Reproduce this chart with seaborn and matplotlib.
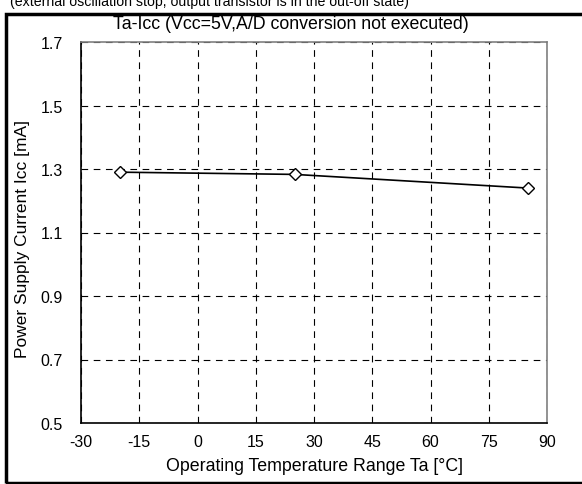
import matplotlib
matplotlib.use("Agg")
import matplotlib.pyplot as plt
import seaborn as sns
import pandas as pd
from matplotlib.patches import Rectangle

temps = [-20, 25, 85]
icc = [1.29, 1.283, 1.24]
xticks = [-30, -15, 0, 15, 30, 45, 60, 75, 90]
yticks = [0.5, 0.7, 0.9, 1.1, 1.3, 1.5, 1.7]

sns.set_theme(style="white")
plt.rcParams['font.family'] = ['Liberation Sans', 'DejaVu Sans']

df = pd.DataFrame({"Ta": temps, "Icc": icc})

W, H = 582, 485
fig = plt.figure(figsize=(W / 100, H / 100), dpi=100)
fig.patch.set_facecolor("white")
l, r, t, b = 81, 547, 43, 424
ax = fig.add_axes([l / W, 1 - b / H, (r - l) / W, (b - t) / H])

sns.lineplot(data=df, x="Ta", y="Icc", ax=ax, color="black", linewidth=1.2,
             marker="D", markersize=6, markerfacecolor="white",
             markeredgecolor="black", markeredgewidth=1.0)

ax.set_xlim(-30, 90)
ax.set_ylim(0.5, 1.7)
ax.set_xticks(xticks)
ax.set_yticks(yticks)
ax.set_xticklabels([str(v) for v in xticks])
ax.set_yticklabels([f"{v:.1f}" for v in yticks])
ax.tick_params(axis="both", length=0, labelsize=11.5, colors="black")
ax.tick_params(axis="y", pad=13)
ax.tick_params(axis="x", pad=8)
ax.grid(True, color="black", linestyle=(0, (6, 5)), linewidth=0.8)
ax.set_axisbelow(True)
for s in ["left", "bottom"]:
    ax.spines[s].set_color("black")
    ax.spines[s].set_linewidth(1.2)
for s in ["top", "right"]:
    ax.spines[s].set_color("#808080")
    ax.spines[s].set_linewidth(1.2)

ax.set_xlabel("Operating Temperature Range Ta [°C]", fontsize=12.8, color="black", labelpad=6)
ax.set_ylabel("Power Supply Current Icc [mA]", fontsize=12.5, color="black")
ax.yaxis.set_label_coords(-0.11, 0.485)

fig.text(291 / W, 1 - 16 / H, "Ta-Icc (Vcc=5V,A/D conversion not executed)",
         ha="center", va="top", fontsize=12.8, color="black")
fig.text(10 / W, 1 - 6 / H, "(external oscillation stop, output transistor is in the out-off state)",
         ha="left", va="baseline", fontsize=10.2, color="black")

fig.patches.append(Rectangle((5.5 / W, 1 - 484 / H), (585 - 5.5) / W, (484 - 14.5) / H,
                             transform=fig.transFigure, fill=False,
                             edgecolor="black", linewidth=2.5, clip_on=False))

fig.savefig("out.png", dpi=100)
